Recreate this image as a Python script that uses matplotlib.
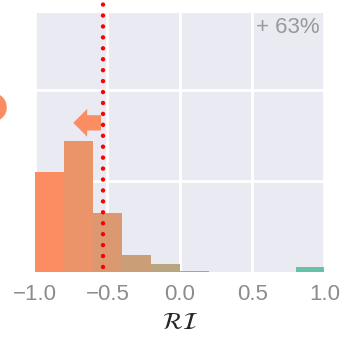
#!/usr/bin/env python
"""Histogram of RI values with threshold marker."""

import numpy as np
import matplotlib as mpl
mpl.use('Agg')
import matplotlib.pyplot as plt
from matplotlib.colors import to_rgb

# histogram data (bin edges + heights)
bin_edges = [-1.0, -0.8, -0.6, -0.4, -0.2, 0.0, 0.2, 0.4, 0.6, 0.8, 1.0]
bin_heights = [1.10, 1.44, 0.65, 0.19, 0.085, 0.011, 0.0, 0.0, 0.0, 0.058]
threshold = -0.53
share_label = '+ 63%'
xticks = [-1.0, -0.5, 0.0, 0.5, 1.0]
xtick_labels = ['\u22121.0', '\u22120.5', '0.0', '0.5', '1.0']

c_neg = np.array(to_rgb('#fc8d62'))
c_pos = np.array(to_rgb('#66c2a5'))
grey = '#8c8c8c'

plt.rcParams['font.family'] = ['Liberation Sans', 'DejaVu Sans']

fig = plt.figure(figsize=(3.47, 3.39), dpi=100)
ax = fig.add_axes([0.101, 0.198, 0.834, 0.764])
ax.set_facecolor('#eaeaf2')
for s in ax.spines.values():
    s.set_visible(False)

# bars coloured from orange to green
n = len(bin_heights)
lefts = np.array(bin_edges[:-1])
widths = np.diff(bin_edges)
cols = [tuple(c_neg + (c_pos - c_neg) * i / (n - 1)) for i in range(n)]
ax.bar(lefts, bin_heights, width=widths, align='edge', color=cols,
       linewidth=0, zorder=2)

ax.set_xlim(-1.0, 1.0)
ax.set_ylim(0, 2.85)
ax.set_xticks(xticks)
ax.set_xticklabels(xtick_labels)
ax.set_yticks([1, 2])
ax.set_yticklabels([])
ax.tick_params(axis='both', length=0, labelsize=16, labelcolor=grey, pad=9)
ax.grid(True, color='white', linewidth=2, zorder=1)
ax.set_axisbelow(True)

# threshold line, running above the axes
ax.axvline(threshold, ymin=0.02, ymax=1.06, color='red', linewidth=3.2,
           linestyle=(0, (0.01, 2.45)), dash_capstyle='round', clip_on=False,
           zorder=4)

# arrow to the left of threshold
ax.annotate('', xy=(-0.755, 1.64), xytext=(threshold + 0.005, 1.64),
            arrowprops=dict(arrowstyle='simple,head_length=1.0,head_width=2.0,tail_width=1.1',
                            color='#fc8d62', linewidth=0, mutation_scale=10),
            zorder=3)

ax.text(0.985, 0.985, share_label, transform=ax.transAxes, ha='right', va='top',
        fontsize=16, color='#999999')

ax.set_xlabel(r'$\mathcal{RI}$', fontsize=17, color='#262626', labelpad=5)

# question mark mostly cut off by the left edge (as in the original)
fig.text(-38 / 347, 1 - 148 / 339, '?', ha='left', va='baseline', fontsize=57,
         color='#fc8d62', fontweight='bold')

plt.savefig('out.png', dpi=100)
plt.close()
